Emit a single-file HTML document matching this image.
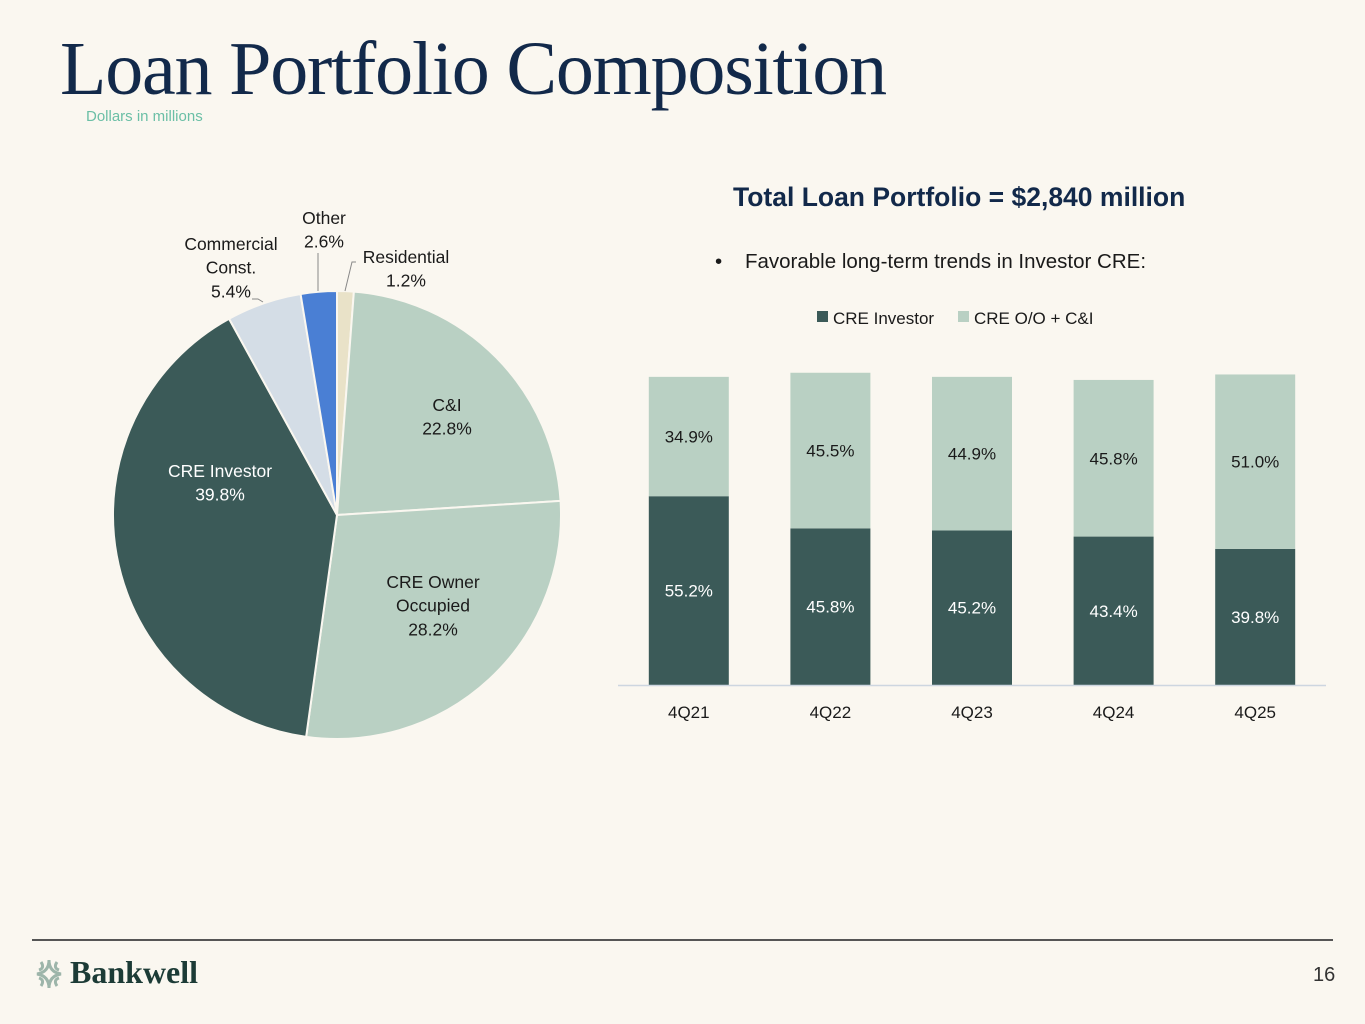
<!DOCTYPE html>
<html><head><meta charset="utf-8">
<style>
body{margin:0;background:#faf7f0;font-family:"Liberation Sans",sans-serif;}
#wrap{position:relative;width:1365px;height:1024px;overflow:hidden;background:#faf7f0;}
.t{position:absolute;white-space:nowrap;}
</style></head><body>
<div id="wrap">
<div class="t" style="left:60px;top:26px;font-family:'Liberation Serif',serif;font-size:76px;color:#12294a;letter-spacing:-1.2px;">Loan Portfolio Composition</div>
<div class="t" style="left:86px;top:108px;font-size:15px;color:#6bbfa6;">Dollars in millions</div>
<div class="t" style="left:733px;top:182px;font-size:26.5px;font-weight:bold;color:#12294a;">Total Loan Portfolio = $2,840 million</div>
<div class="t" style="left:715px;top:250px;font-size:20.5px;color:#1a1a1a;">•&nbsp;&nbsp;&nbsp;&nbsp;Favorable long-term trends in Investor CRE:</div>
<svg id="chart" width="1365" height="1024" style="position:absolute;left:0;top:0"></svg>
<div style="position:absolute;left:32px;top:939px;width:1301px;height:2px;background:#555;"></div>
<svg style="position:absolute;left:33px;top:958px" width="32" height="32">
<g fill="none" stroke="#9db5aa" stroke-width="3">
<path d="M16 2 Q16 14 4 16 Q16 18 16 30 Q16 18 28 16 Q16 14 16 2Z"/>
<path d="M8 4 Q12 10 6 12"/><path d="M24 4 Q20 10 26 12"/><path d="M8 28 Q12 22 6 20"/><path d="M24 28 Q20 22 26 20"/>
</g></svg>
<div class="t" style="left:70px;top:954px;font-family:'Liberation Serif',serif;font-weight:bold;font-size:32px;color:#1c3b36;">Bankwell</div>
<div class="t" style="left:1313px;top:964px;font-size:20px;color:#333;">16</div>
</div>
<script>
const NS="http://www.w3.org/2000/svg";
const svg=document.getElementById('chart');
function mk(tag,attrs,parent){const e=document.createElementNS(NS,tag);for(const k in attrs)e.setAttribute(k,attrs[k]);(parent||svg).appendChild(e);return e;}
function txt(lines,x,y,size,fill,parent){const t=mk('text',{x:x,y:y,'font-size':size,fill:fill,'text-anchor':'middle','font-family':'Liberation Sans, sans-serif'},parent);lines.forEach((l,i)=>{const s=mk('tspan',{x:x,dy:i?size*1.35:0},t);s.textContent=l;});return t;}

// PIE DATA
const pieLabels=["Residential","C&I","CRE Owner Occupied","CRE Investor","Commercial Const.","Other"];
const pieValues=[1.2,22.8,28.2,39.8,5.4,2.6];
const pieColors=["#e9e2c8","#b9d0c3","#b9d0c3","#3b5a58","#d4dde6","#4a7fd4"];
const cx=337,cy=515,R=224;
const pieG=mk('g',{});


const tot=pieValues.reduce((a,b)=>a+b,0);
function pt(a,r){return [cx+r*Math.sin(a),cy-r*Math.cos(a)];}
let acc=0;
pieValues.forEach((v,i)=>{
  const a0=acc/tot*2*Math.PI;acc+=v;const a1=acc/tot*2*Math.PI;
  const p0=pt(a0,R),p1=pt(a1,R);
  const p=mk('path',{d:`M${cx},${cy} L${p0[0]},${p0[1]} A${R},${R} 0 ${a1-a0>Math.PI?1:0} 1 ${p1[0]},${p1[1]} Z`,fill:pieColors[i],stroke:'#faf7f0','stroke-width':2},pieG);
  
  
});
const lbls=[
 [["Residential",pieValues[0].toFixed(1)+"%"],406,263,'#1a1a1a'],
 [["C&I",pieValues[1].toFixed(1)+"%"],447,411,'#1a1a1a'],
 [["CRE Owner","Occupied",pieValues[2].toFixed(1)+"%"],433,588,'#1a1a1a'],
 [["CRE Investor",pieValues[3].toFixed(1)+"%"],220,477,'#ffffff'],
 [["Commercial","Const.",pieValues[4].toFixed(1)+"%"],231,250,'#1a1a1a'],
 [["Other",pieValues[5].toFixed(1)+"%"],324,224,'#1a1a1a']];
lbls.forEach((l,i)=>{const t=txt(l[0],l[1],l[2],17.5,l[3],pieG);

});
mk('path',{d:'M318,253 L318,291',stroke:'#888',fill:'none'},pieG);
mk('path',{d:'M356,262 L352,262 L345,291',stroke:'#888',fill:'none'},pieG);
mk('path',{d:'M252,299 L258,299 L263,302',stroke:'#888',fill:'none'},pieG);

// BAR DATA
const barCats=["4Q21","4Q22","4Q23","4Q24","4Q25"];
const creInvestor=[55.2,45.8,45.2,43.4,39.8];
const creOOCI=[34.9,45.5,44.9,45.8,51.0];
const x0=618,x1=1326,baseY=685,pxPer=3.42,bw=80;
const barG=mk('g',{});


const step=(x1-x0)/barCats.length;
function xc(i){return x0+step*(i+0.5);}
function yv(v){return v*pxPer;}
barCats.forEach((c,i)=>{
  const h1=yv(creInvestor[i]),h2=yv(creOOCI[i]);
  const b1=mk('rect',{x:xc(i)-bw/2,y:baseY-h1,width:bw,height:h1,fill:'#3b5a58'},barG);
  
  
  const b2=mk('rect',{x:xc(i)-bw/2,y:baseY-h1-h2,width:bw,height:h2,fill:'#b9d0c3'},barG);
  
  
  const l1=txt([creInvestor[i].toFixed(1)+"%"],xc(i),baseY-h1/2+6,17,'#ffffff',barG);
  
  
  const l2=txt([creOOCI[i].toFixed(1)+"%"],xc(i),baseY-h1-h2/2+6,17,'#1a1a1a',barG);
  
  
  const xl=txt([c],xc(i),718,17,'#1a1a1a',barG);
  
  
});
const ax=mk('line',{x1:x0,x2:x1,y1:baseY+0.5,y2:baseY+0.5,stroke:'#cdd6e0','stroke-width':1.5},barG);


const lg=mk('g',{},barG);


mk('rect',{x:817,y:311,width:11,height:11,fill:'#3b5a58'},lg);
const lt1=mk('text',{x:833,y:324,'font-size':17,fill:'#1a1a1a'},lg);lt1.textContent='CRE Investor';
mk('rect',{x:958,y:311,width:11,height:11,fill:'#b9d0c3'},lg);
const lt2=mk('text',{x:974,y:324,'font-size':17,fill:'#1a1a1a'},lg);lt2.textContent='CRE O/O + C&I';
</script>
</body></html>
